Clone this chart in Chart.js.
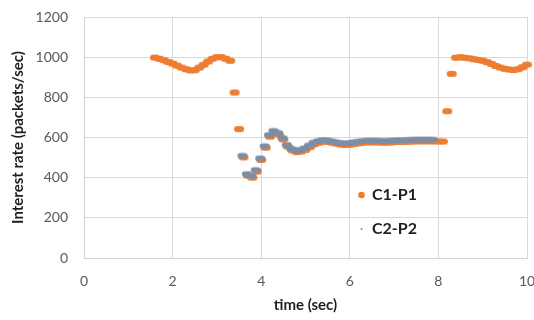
<!DOCTYPE html>
<html>
<head>
<meta charset="utf-8">
<script src="https://cdn.jsdelivr.net/npm/chart.js@4"></script>
<style>
  html, body { margin: 0; padding: 0; background: #ffffff; }
  #c { display: block; }
</style>
</head>
<body>
<canvas id="c" width="534" height="320"></canvas>
<script>
// ---- data ----
const seriesNames = ["C1-P1", "C2-P2"];
const c1Times = [1.6,1.7,1.8,1.9,2.0,2.1,2.2,2.3,2.4,2.5,2.6,2.7,2.8,2.9,3.0,3.1,3.2,3.3,3.4,3.5,
  3.6,3.7,3.8,3.9,4.0,4.1,4.2,4.3,4.4,4.5,4.6,4.7,4.8,4.9,5.0,5.1,5.2,5.3,5.4,5.5,
  5.6,5.7,5.8,5.9,6.0,6.1,6.2,6.3,6.4,6.5,6.6,6.7,6.8,6.9,7.0,7.1,7.2,7.3,7.4,7.5,
  7.6,7.7,7.8,7.9,8.0,8.1,8.2,8.3,8.4,8.5,8.6,8.7,8.8,8.9,9.0,9.1,9.2,9.3,9.4,9.5,
  9.6,9.7,9.8,9.9,10.0];
const c1Rates = [998,992,985,976,968,958,948,940,934,935,948,962,978,992,1000,1000,992,982,824,642,
  501,410,400,430,488,549,604,625,615,590,555,536,527,530,538,552,566,574,579,578,
  574,569,565,563,564,568,571,574,576,576,576,575,574,575,577,578,578,579,580,581,
  581,581,581,581,580,580,731,917,997,1000,997,994,990,986,982,975,966,956,948,942,
  938,936,940,950,963];
const c2Times = [3.6,3.7,3.8,3.9,4.0,4.1,4.2,4.3,4.4,4.5,4.6,4.7,4.8,4.9,5.0,5.1,5.2,5.3,5.4,5.5,
  5.6,5.7,5.8,5.9,6.0,6.1,6.2,6.3,6.4,6.5,6.6,6.7,6.8,6.9,7.0,7.1,7.2,7.3,7.4,7.5,
  7.6,7.7,7.8,7.9];
const c2Rates = [503,412,402,432,490,551,606,627,617,592,557,538,529,532,540,554,568,576,581,580,
  576,571,567,565,566,570,573,576,578,578,578,577,576,577,579,580,580,581,582,583,
  583,583,583,583];
const xTickValues = [0,2,4,6,8,10];
const yTickValues = [0,200,400,600,800,1000,1200];

// ---- styles ----
const ORANGE = '#ED7D31';
const SLATE = '#7d8da5';
const TEAL = '#5aa5b3';
const FONT = 'Lato, "Open Sans", sans-serif';

function pill(w, h, color, dx, dy) {
  const pad = 3;
  const cv = document.createElement('canvas');
  cv.width = w + pad * 2; cv.height = h + pad * 2;
  const g = cv.getContext('2d');
  const r = h / 2;
  const x0 = pad + dx, y0 = pad + dy;
  g.fillStyle = color;
  g.beginPath();
  g.moveTo(x0 + r, y0);
  g.lineTo(x0 + w - r, y0);
  g.arc(x0 + w - r, y0 + r, r, -Math.PI / 2, Math.PI / 2);
  g.lineTo(x0 + r, y0 + h);
  g.arc(x0 + r, y0 + r, r, Math.PI / 2, Math.PI * 1.5);
  g.closePath();
  g.fill();
  return cv;
}
const orangeMark = pill(10, 6, ORANGE, 0, 0);
const slateMark = pill(10, 5.5, SLATE, -1, -1.5);

function toPoints(xs, ys) { return xs.map((x, i) => ({ x: x, y: ys[i] })); }

const legendPlugin = {
  id: 'innerLegend',
  afterDatasetsDraw(chart) {
    const ctx = chart.ctx;
    ctx.save();
    ctx.fillStyle = ORANGE;
    ctx.beginPath(); ctx.arc(361.5, 195, 3.3, 0, Math.PI * 2); ctx.fill();
    ctx.fillStyle = TEAL;
    ctx.beginPath(); ctx.arc(361.5, 229, 1.1, 0, Math.PI * 2); ctx.fill();
    ctx.fillStyle = '#1f1f1f';
    ctx.font = 'bold 16px ' + FONT;
    ctx.textBaseline = 'middle';
    ctx.textAlign = 'left';
    ctx.fillText(seriesNames[0], 372, 195);
    ctx.fillText(seriesNames[1], 372, 229);
    ctx.restore();
  }
};

function zeroPad(s) { s.paddingLeft = 0; s.paddingRight = 0; s.paddingTop = 0; s.paddingBottom = 0; }

new Chart(document.getElementById('c'), {
  type: 'scatter',
  data: {
    datasets: [
      { label: seriesNames[0], data: toPoints(c1Times, c1Rates), pointStyle: orangeMark,
        backgroundColor: ORANGE, borderColor: ORANGE, showLine: false, clip: false, order: 2 },
      { label: seriesNames[1], data: toPoints(c2Times, c2Rates), pointStyle: slateMark,
        backgroundColor: SLATE, borderColor: SLATE, showLine: false, clip: false, order: 1 }
    ]
  },
  options: {
    responsive: false,
    animation: false,
    devicePixelRatio: 1,
    layout: { padding: { top: 17, right: 7, left: 0, bottom: 0 } },
    plugins: { legend: { display: false }, tooltip: { enabled: false } },
    scales: {
      x: {
        type: 'linear', min: 0, max: 10,
        afterBuildTicks: s => { s.ticks = xTickValues.map(v => ({ value: v })); },
        afterFit: s => { s.height = 62; zeroPad(s); },
        grid: { color: '#d9d9d9', drawTicks: false, lineWidth: 1 },
        border: { color: '#d0d0d0' },
        ticks: { color: '#595959', font: { family: FONT, size: 14 }, padding: 15, maxRotation: 0,
                 callback: v => String(v) },
        title: { display: true, text: 'time (sec)', color: '#1f1f1f',
                 font: { family: FONT, size: 15, weight: 'bold' }, padding: { top: 0, bottom: 6 } }
      },
      y: {
        type: 'linear', min: 0, max: 1200,
        afterBuildTicks: s => { s.ticks = yTickValues.map(v => ({ value: v })); },
        afterFit: s => { s.width = 84; zeroPad(s); },
        grid: { color: '#d9d9d9', drawTicks: false, lineWidth: 1 },
        border: { color: '#d0d0d0' },
        ticks: { color: '#595959', font: { family: FONT, size: 14 }, padding: 16,
                 callback: v => String(v) },
        title: { display: true, text: 'Interest rate (packets/sec)', color: '#1f1f1f',
                 font: { family: FONT, size: 15, weight: 'bold' }, padding: { top: 9, bottom: 0 } }
      }
    }
  },
  plugins: [legendPlugin]
});
</script>
</body>
</html>
